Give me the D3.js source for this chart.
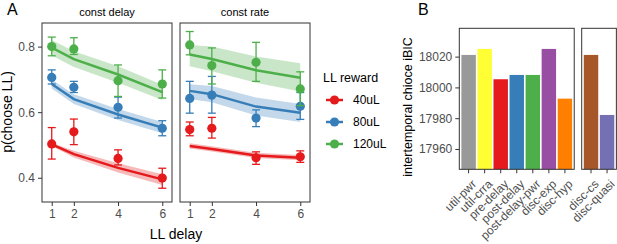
<!DOCTYPE html>
<html>
<head>
<meta charset="utf-8">
<script src="https://cdn.jsdelivr.net/npm/d3@7"></script>
<style>
  body { margin: 0; background: #fff; }
  svg { font-family: "Liberation Sans", Arial, sans-serif; }
</style>
</head>
<body>
<script>
// ---- data ----
const delays = [1, 2, 4, 6];
const rewards = ["40uL", "80uL", "120uL"];
const rewardColors = ["#E41A1C", "#377EB8", "#4DAF4A"];
const yTicksA = [0.4, 0.6, 0.8];

// const delay panel (rows: 40, 80, 120 uL)
const cdMean = [[0.503, 0.540, 0.459, 0.399], [0.706, 0.676, 0.615, 0.551], [0.800, 0.793, 0.696, 0.686]];
const cdLo   = [[0.457, 0.501, 0.439, 0.368], [0.686, 0.660, 0.582, 0.528], [0.772, 0.776, 0.648, 0.643]];
const cdHi   = [[0.553, 0.579, 0.485, 0.429], [0.729, 0.694, 0.646, 0.574], [0.829, 0.827, 0.744, 0.729]];
const cdFit  = [[0.502, 0.472, 0.430, 0.395], [0.686, 0.640, 0.593, 0.553], [0.797, 0.762, 0.715, 0.661]];
const cdFitLo = [[0.497, 0.462, 0.416, 0.378], [0.672, 0.625, 0.576, 0.536], [0.773, 0.738, 0.690, 0.637]];
const cdFitHi = [[0.507, 0.482, 0.444, 0.411], [0.700, 0.655, 0.610, 0.570], [0.820, 0.786, 0.740, 0.684]];

// const rate panel
const crMean = [[0.547, 0.551, 0.461, 0.464], [0.642, 0.652, 0.582, 0.618], [0.805, 0.742, 0.752, 0.671]];
const crLo   = [[0.528, 0.521, 0.441, 0.447], [0.597, 0.597, 0.556, 0.578], [0.775, 0.686, 0.694, 0.620]];
const crHi   = [[0.570, 0.584, 0.479, 0.482], [0.694, 0.709, 0.607, 0.660], [0.846, 0.796, 0.813, 0.723]];
const crFit  = [[0.497, 0.488, 0.468, 0.461], [0.665, 0.655, 0.617, 0.598], [0.776, 0.762, 0.728, 0.705]];
const crFitLo = [[0.489, 0.480, 0.460, 0.453], [0.640, 0.630, 0.590, 0.570], [0.740, 0.725, 0.690, 0.663]];
const crFitHi = [[0.505, 0.496, 0.476, 0.469], [0.685, 0.680, 0.645, 0.625], [0.805, 0.800, 0.770, 0.749]];

const panelsA = [
  {title: "const delay", mean: cdMean, lo: cdLo, hi: cdHi, fit: cdFit, fitLo: cdFitLo, fitHi: cdFitHi},
  {title: "const rate",  mean: crMean, lo: crLo, hi: crHi, fit: crFit, fitLo: crFitLo, fitHi: crFitHi}
];

// panel B
const models = ["util-pwr", "util-crra", "pre-delay", "post-delay", "post-delay-pwr", "disc-exp", "disc-hyp"];
const modelBIC = [18021.1, 18025.0, 18005.3, 18008.1, 18008.1, 18025.0, 17992.7];
const modelColors = ["#999999", "#FFFF33", "#E41A1C", "#377EB8", "#4DAF4A", "#984EA3", "#FF7F00"];
const discModels = ["disc-cs", "disc-quasi"];
const discBIC = [18021.1, 17982.1];
const discColors = ["#A65628", "#7570B3"];
const bicTicks = [17960, 17980, 18000, 18020];

const W = 617, H = 244;
const svg = d3.select("body").append("svg").attr("width", W).attr("height", H);
const tickCol = "#4D4D4D", frameCol = "#333333";

// ---- panel A ----
const aTop = 23, aBottom = 202;
const y = d3.scaleLinear().domain([0.326, 0.872]).range([aBottom, aTop]);
const panelX = [[42, 172], [180, 310]];

panelsA.forEach(function(p, i) {
  const x = d3.scaleLinear().domain([0.56, 6.44]).range(panelX[i]);
  const g = svg.append("g");

  g.append("text")
    .attr("x", (panelX[i][0] + panelX[i][1]) / 2).attr("y", 15.5)
    .attr("text-anchor", "middle").attr("font-size", 11).text(p.title);

  rewards.forEach(function(r, s) {
    const col = rewardColors[s];
    const band = d3.area()
      .x(function(d, k) { return x(delays[k]); })
      .y0(function(d, k) { return y(p.fitLo[s][k]); })
      .y1(function(d, k) { return y(p.fitHi[s][k]); });
    g.append("path").datum(delays).attr("d", band)
      .attr("fill", col).attr("fill-opacity", 0.3);

    const line = d3.line()
      .x(function(d, k) { return x(delays[k]); })
      .y(function(d, k) { return y(p.fit[s][k]); });
    g.append("path").datum(delays).attr("d", line)
      .attr("fill", "none").attr("stroke", col).attr("stroke-width", 2.5);

    delays.forEach(function(d, k) {
      const cx = x(d);
      g.append("line").attr("x1", cx).attr("x2", cx)
        .attr("y1", y(p.lo[s][k])).attr("y2", y(p.hi[s][k]))
        .attr("stroke", col).attr("stroke-width", 1.3);
      [p.lo[s][k], p.hi[s][k]].forEach(function(v) {
        g.append("line").attr("x1", cx - 4).attr("x2", cx + 4)
          .attr("y1", y(v)).attr("y2", y(v))
          .attr("stroke", col).attr("stroke-width", 1.3);
      });
    });

    g.selectAll(".pt" + s).data(delays).enter().append("circle")
      .attr("cx", function(d) { return x(d); })
      .attr("cy", function(d, k) { return y(p.mean[s][k]); })
      .attr("r", 4.6).attr("fill", col);
  });

  // frame
  g.append("rect").attr("x", panelX[i][0]).attr("y", aTop)
    .attr("width", panelX[i][1] - panelX[i][0]).attr("height", aBottom - aTop)
    .attr("fill", "none").attr("stroke", frameCol).attr("stroke-width", 1);

  const xAxis = g.append("g").attr("transform", "translate(0," + aBottom + ")")
    .call(d3.axisBottom(x).tickValues(delays).tickSize(4).tickPadding(3).tickFormat(d3.format("d")));
  xAxis.select(".domain").remove();
  xAxis.selectAll("line").attr("stroke", frameCol);
  xAxis.selectAll("text").attr("font-size", 12).attr("fill", tickCol).attr("font-family", null);

  if (i === 0) {
    const yAxis = g.append("g").attr("transform", "translate(" + panelX[0][0] + ",0)")
      .call(d3.axisLeft(y).tickValues(yTicksA).tickSize(4).tickPadding(3).tickFormat(d3.format(".1f")));
    yAxis.select(".domain").remove();
    yAxis.selectAll("line").attr("stroke", frameCol);
    yAxis.selectAll("text").attr("font-size", 12).attr("fill", tickCol).attr("font-family", null);
  }
});

svg.append("text").attr("x", 176).attr("y", 238.5).attr("text-anchor", "middle")
  .attr("font-size", 14).text("LL delay");
svg.append("text").attr("transform", "translate(12,112) rotate(-90)")
  .attr("text-anchor", "middle").attr("font-size", 14).text("p(choose LL)");
svg.append("text").attr("x", 7).attr("y", 15).attr("font-size", 16).text("A");

// legend
const leg = svg.append("g");
leg.append("text").attr("x", 323).attr("y", 81.5).attr("font-size", 12.5).text("LL reward");
rewards.forEach(function(r, s) {
  const cy = 100 + s * 22;
  leg.append("line").attr("x1", 326).attr("x2", 343).attr("y1", cy).attr("y2", cy)
    .attr("stroke", rewardColors[s]).attr("stroke-width", 2.5);
  leg.append("circle").attr("cx", 334.5).attr("cy", cy).attr("r", 4.6).attr("fill", rewardColors[s]);
  leg.append("text").attr("x", 353).attr("y", cy + 4.3).attr("font-size", 12).text(r);
});

// ---- panel B ----
const bTop = 28.3, bBottom = 169.3;
const yb = d3.scaleLinear().domain([17946.8, 18038.4]).range([bBottom, bTop]);
const step = 16.05;

function barPanel(names, vals, cols, x0, showY) {
  const w = step * (names.length - 0.1 + 0.26);
  const xb = d3.scaleBand().domain(names).range([x0, x0 + w]).paddingInner(0.1).paddingOuter(0.13);
  const g = svg.append("g");
  g.selectAll("rect.bar").data(names).enter().append("rect")
    .attr("class", "bar")
    .attr("x", function(d) { return xb(d); })
    .attr("width", xb.bandwidth())
    .attr("y", function(d, k) { return yb(vals[k]); })
    .attr("height", function(d, k) { return bBottom - yb(vals[k]); })
    .attr("fill", function(d, k) { return cols[k]; });
  g.append("rect").attr("x", x0).attr("y", bTop).attr("width", w).attr("height", bBottom - bTop)
    .attr("fill", "none").attr("stroke", frameCol).attr("stroke-width", 1);

  const xAxis = g.append("g").attr("transform", "translate(0," + bBottom + ")")
    .call(d3.axisBottom(xb).tickSize(4).tickPadding(2));
  xAxis.select(".domain").remove();
  xAxis.selectAll("line").attr("stroke", frameCol);
  xAxis.selectAll("text")
    .attr("font-size", 12).attr("fill", tickCol).attr("font-family", null)
    .attr("text-anchor", "end")
    .attr("transform", "translate(1,8) rotate(-45)")
    .attr("dy", "0.71em").attr("y", 2).attr("x", 0);

  if (showY) {
    const yAxis = g.append("g").attr("transform", "translate(" + x0 + ",0)")
      .call(d3.axisLeft(yb).tickValues(bicTicks).tickSize(4).tickPadding(3).tickFormat(d3.format("d")));
    yAxis.select(".domain").remove();
    yAxis.selectAll("line").attr("stroke", frameCol);
    yAxis.selectAll("text").attr("font-size", 12).attr("fill", tickCol).attr("font-family", null);
  }
}
barPanel(models, modelBIC, modelColors, 459.3, true);
barPanel(discModels, discBIC, discColors, 581.7, false);

svg.append("text").attr("transform", "translate(412,107) rotate(-90)")
  .attr("text-anchor", "middle").attr("font-size", 12.5).text("intertemporal chioce iBIC");
svg.append("text").attr("x", 418).attr("y", 15).attr("font-size", 16).text("B");
</script>
</body>
</html>
